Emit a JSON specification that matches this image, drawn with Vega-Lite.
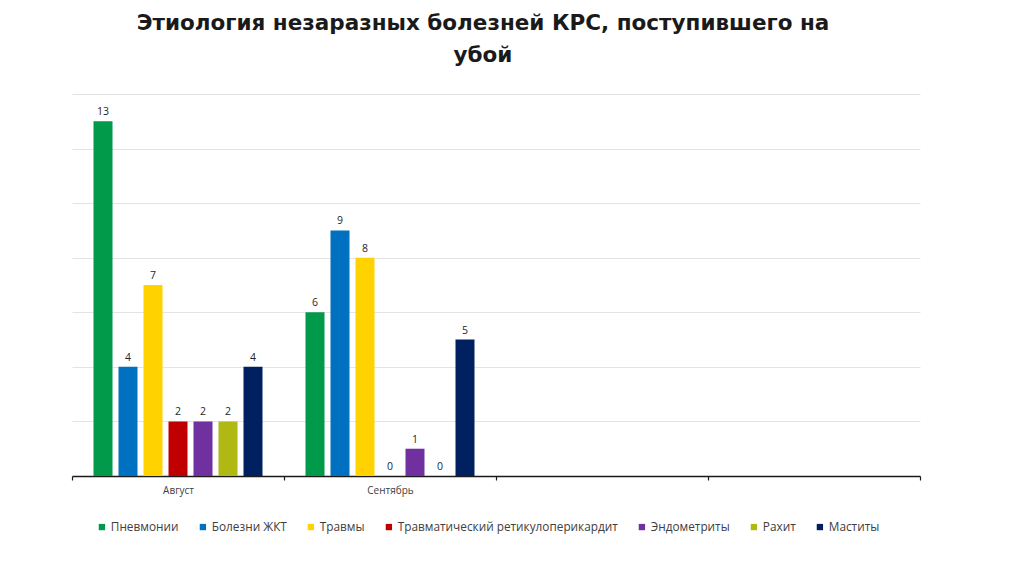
{
  "$schema": "https://vega.github.io/schema/vega-lite/v6.json",
  "width": 848,
  "height": 382,
  "autosize": {"type": "none"},
  "padding": {"left": 72, "top": 94, "right": 104, "bottom": 100},
  "background": "white",
  "view": {"stroke": null},
  "title": {
    "text": ["Этиология незаразных болезней КРС, поступившего на", "убой"],
    "font": "DejaVu Sans",
    "fontSize": 21.5,
    "fontWeight": "bold",
    "color": "#1a1a1a",
    "lineHeight": 32,
    "anchor": "middle",
    "dx": -13,
    "offset": 28
  },
  "data": {
    "values": [
      {"month": "Август", "disease": "Пневмонии", "value": 13},
      {"month": "Август", "disease": "Болезни ЖКТ", "value": 4},
      {"month": "Август", "disease": "Травмы", "value": 7},
      {"month": "Август", "disease": "Травматический ретикулоперикардит", "value": 2},
      {"month": "Август", "disease": "Эндометриты", "value": 2},
      {"month": "Август", "disease": "Рахит", "value": 2},
      {"month": "Август", "disease": "Маститы", "value": 4},
      {"month": "Сентябрь", "disease": "Пневмонии", "value": 6},
      {"month": "Сентябрь", "disease": "Болезни ЖКТ", "value": 9},
      {"month": "Сентябрь", "disease": "Травмы", "value": 8},
      {"month": "Сентябрь", "disease": "Травматический ретикулоперикардит", "value": 0},
      {"month": "Сентябрь", "disease": "Эндометриты", "value": 1},
      {"month": "Сентябрь", "disease": "Рахит", "value": 0},
      {"month": "Сентябрь", "disease": "Маститы", "value": 5}
    ]
  },
  "encoding": {
    "x": {
      "field": "month",
      "type": "nominal",
      "scale": {"domain": ["Август", "Сентябрь", "c3", "c4"], "paddingInner": 0, "paddingOuter": 0},
      "axis": {
        "title": null,
        "labelExpr": "(datum.value == 'Август' || datum.value == 'Сентябрь') ? datum.value : ''",
        "labelAngle": 0,
        "labelFont": "Open Sans",
        "labelFontSize": 10,
        "labelColor": "#404040",
        "labelPadding": 5,
        "domainColor": "#1a1a1a",
        "domainWidth": 1.5,
        "tickColor": "#1a1a1a",
        "tickWidth": 1.2,
        "tickSize": 4,
        "tickBand": "extent",
        "grid": false
      }
    },
    "xOffset": {
      "field": "disease",
      "type": "nominal",
      "sort": ["Пневмонии", "Болезни ЖКТ", "Травмы", "Травматический ретикулоперикардит", "Эндометриты", "Рахит", "Маститы"],
      "scale": {"paddingInner": 0.24, "paddingOuter": 0.86}
    },
    "y": {
      "field": "value",
      "type": "quantitative",
      "scale": {"domain": [0, 14], "nice": false},
      "axis": {
        "title": null,
        "values": [0, 2, 4, 6, 8, 10, 12, 14],
        "labels": false,
        "ticks": false,
        "domain": false,
        "grid": true,
        "gridColor": "#e3e3e3",
        "gridWidth": 1
      }
    }
  },
  "layer": [
    {
      "mark": {"type": "bar"},
      "encoding": {
        "color": {
          "field": "disease",
          "type": "nominal",
          "sort": ["Пневмонии", "Болезни ЖКТ", "Травмы", "Травматический ретикулоперикардит", "Эндометриты", "Рахит", "Маститы"],
          "scale": {
            "domain": ["Пневмонии", "Болезни ЖКТ", "Травмы", "Травматический ретикулоперикардит", "Эндометриты", "Рахит", "Маститы"],
            "range": ["#009A4A", "#0070C0", "#FFD200", "#C00000", "#7030A0", "#B0B814", "#002060"]
          },
          "legend": {
            "title": null,
            "orient": "none",
            "direction": "horizontal",
            "legendX": 24,
            "legendY": 427,
            "symbolType": "square",
            "symbolSize": 40,
            "symbolStrokeWidth": 0,
            "labelFont": "Open Sans",
            "labelFontSize": 11.8,
            "labelColor": "#404040",
            "labelLimit": 400,
            "columnPadding": 18,
            "labelOffset": 3
          }
        }
      }
    },
    {
      "mark": {"type": "text", "dy": -9, "font": "Open Sans", "fontSize": 10.5, "color": "#262626"},
      "encoding": {
        "text": {"field": "value", "type": "quantitative"}
      }
    }
  ]
}
